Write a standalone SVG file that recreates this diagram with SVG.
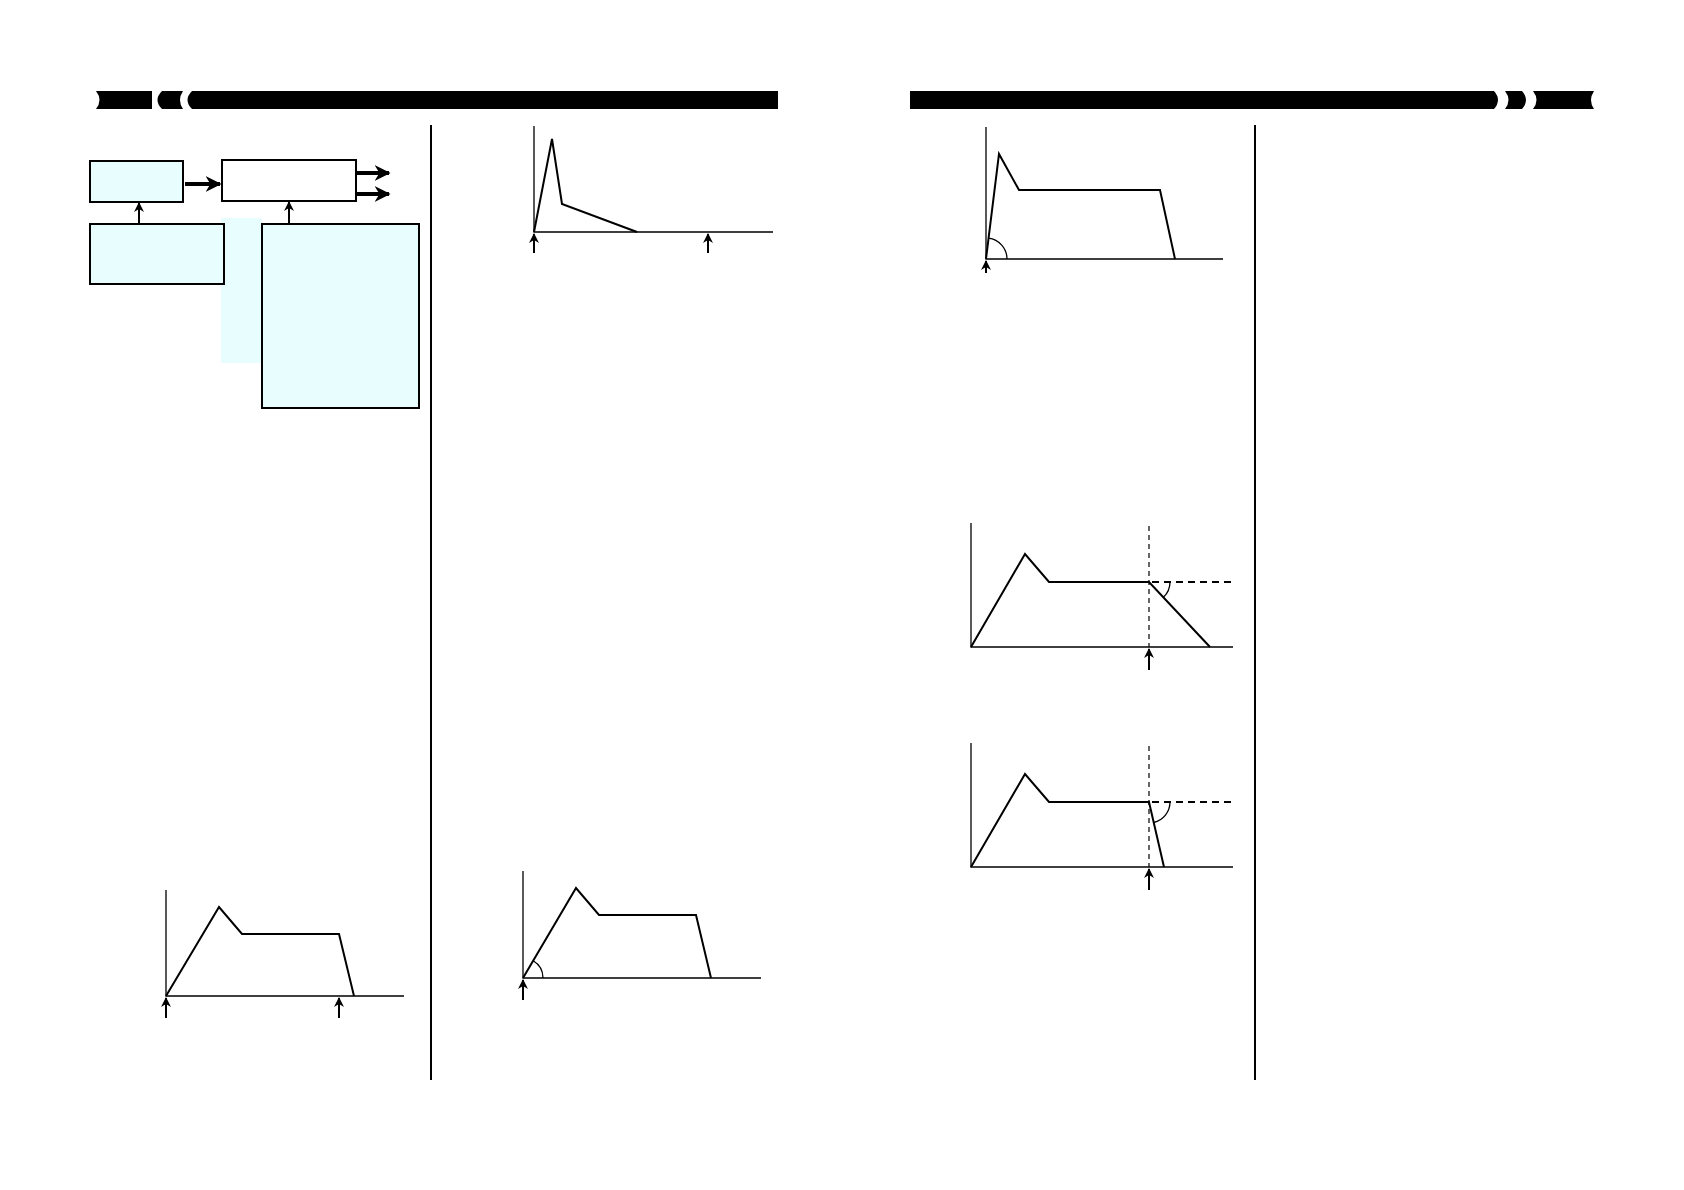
<svg xmlns="http://www.w3.org/2000/svg" width="1684" height="1190" viewBox="0 0 1684 1190">
<style>
.ln{fill:none;stroke:#000;stroke-width:2}
.th{fill:none;stroke:#000;stroke-width:1.3}
.bx{fill:#e8fdfd;stroke:#000;stroke-width:2}
.ds{fill:none;stroke:#000;stroke-width:1.2;stroke-dasharray:5,4}
.dh{fill:none;stroke:#000;stroke-width:2;stroke-dasharray:7,5}
</style>
<defs>
<marker id="ah" viewBox="0 0 10 10" refX="9" refY="5" markerWidth="4" markerHeight="4" orient="auto"><path d="M0,0 L10,5 L0,10 L3,5 Z" fill="#000"/></marker>
<marker id="sa" viewBox="0 0 10 10" refX="9" refY="5" markerWidth="10" markerHeight="10" orient="auto" markerUnits="userSpaceOnUse"><path d="M0,0 L10,5 L0,10 L3,5 Z" fill="#000"/></marker>
</defs>
<rect width="1684" height="1190" fill="#fff"/>
<g id="headers" fill="#000">
<path d="M96,91 Q103,100 96,109 L152,109 L152,91 Z"/>
<path d="M162,91 Q153,100 162,109 L183,109 Q177,100 183,91 Z"/>
<path d="M192,91 Q183,100 192,109 L778,109 L778,91 Z"/>
<path d="M910,91 L1494,91 Q1502,100 1494,109 L910,109 Z"/>
<path d="M1505,91 L1522,91 Q1530,100 1522,109 L1505,109 Q1512,100 1505,91 Z"/>
<path d="M1533,91 L1594,91 Q1588,100 1594,109 L1533,109 Q1540,100 1533,91 Z"/>
</g>
<g id="dividers">
<line x1="431" y1="125" x2="431" y2="1080" stroke="#000" stroke-width="2"/>
<line x1="1255" y1="125" x2="1255" y2="1080" stroke="#000" stroke-width="2"/>
</g>
<rect x="221" y="218" width="41" height="145" fill="#e8fdfd"/>
<g id="n1"><rect class="bx" x="90" y="161" width="93" height="41"/></g>
<g id="n2"><rect x="222" y="160" width="134" height="41" fill="#fff" stroke="#000" stroke-width="2"/></g>
<g id="n3"><rect class="bx" x="90" y="224" width="134" height="60"/></g>
<g id="n4"><rect class="bx" x="262" y="224" width="157" height="184"/></g>
<g id="connectors" stroke="#000" fill="none">
<line x1="185" y1="184" x2="220" y2="184" stroke-width="4" marker-end="url(#ah)"/>
<line x1="357" y1="173" x2="389" y2="173" stroke-width="4" marker-end="url(#ah)"/>
<line x1="357" y1="194" x2="389" y2="194" stroke-width="4" marker-end="url(#ah)"/>
<line x1="139" y1="224" x2="139" y2="203" stroke-width="2" marker-end="url(#sa)"/>
<line x1="289" y1="224" x2="289" y2="202" stroke-width="2" marker-end="url(#sa)"/>
</g>
<g id="graphA">
<polyline class="th" points="534,126 534,232 773,232"/>
<polyline class="ln" points="534,232 552,139 562,204 637,232"/>
<line class="ln" x1="534" y1="253" x2="534" y2="234" marker-end="url(#sa)"/>
<line class="ln" x1="708" y1="253" x2="708" y2="234" marker-end="url(#sa)"/>
</g>
<g id="graphB">
<polyline class="th" points="986,127 986,259 1223,259"/>
<polyline class="ln" points="986,259 999,154 1019,190 1160,190 1175,259"/>
<path class="th" d="M1007,259 A21,21 0 0 0 988.6,238.2"/>
<line class="ln" x1="986" y1="273" x2="986" y2="261" marker-end="url(#sa)"/>
</g>
<g id="graphC">
<polyline class="th" points="971,523 971,647 1233,647"/>
<polyline class="ln" points="971,647 1025,554 1049,582 1149,582 1210,647"/>
<line class="ds" x1="1149" y1="526" x2="1149" y2="647"/>
<line class="dh" x1="1152" y1="582" x2="1236" y2="582"/>
<path class="th" d="M1170,582 A21,21 0 0 1 1163.4,597.3"/>
<line class="ln" x1="1149" y1="670" x2="1149" y2="649" marker-end="url(#sa)"/>
</g>
<g id="graphD">
<polyline class="th" points="971,743 971,867 1233,867"/>
<polyline class="ln" points="971,867 1025,774 1049,802 1149,802 1164,867"/>
<line class="ds" x1="1149" y1="746" x2="1149" y2="867"/>
<line class="dh" x1="1152" y1="802" x2="1236" y2="802"/>
<path class="th" d="M1170,802 A21,21 0 0 1 1153.7,822.5"/>
<line class="ln" x1="1149" y1="890" x2="1149" y2="869" marker-end="url(#sa)"/>
</g>
<g id="graphE">
<polyline class="th" points="166,890 166,996 404,996"/>
<polyline class="ln" points="166,996 219,907 242,934 339,934 354,996"/>
<line class="ln" x1="166" y1="1018" x2="166" y2="998" marker-end="url(#sa)"/>
<line class="ln" x1="339" y1="1018" x2="339" y2="998" marker-end="url(#sa)"/>
</g>
<g id="graphF">
<polyline class="th" points="523,871 523,978 761,978"/>
<polyline class="ln" points="523,978 576,888 599,915 696,915 711,978"/>
<path class="th" d="M543,978 A20,20 0 0 0 533.2,960.8"/>
<line class="ln" x1="523" y1="1000" x2="523" y2="980" marker-end="url(#sa)"/>
</g>
</svg>
